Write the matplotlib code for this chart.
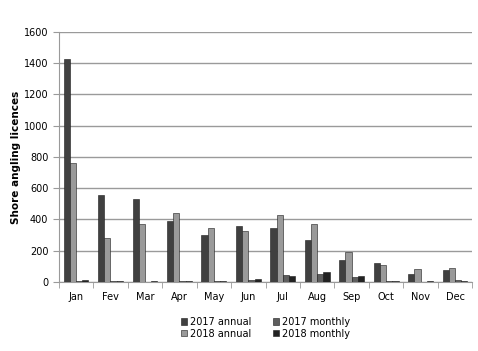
import numpy as np
import matplotlib.pyplot as plt

months = ['Jan', 'Fev', 'Mar', 'Apr', 'May', 'Jun', 'Jul', 'Aug', 'Sep', 'Oct', 'Nov', 'Dec']
annual_2017 = [1427, 554, 528, 387, 298, 356, 346, 267, 137, 118, 51, 77]
annual_2018 = [758, 279, 368, 441, 347, 326, 431, 371, 192, 111, 83, 86]
monthly_2017 = [6, 5, 2, 5, 5, 15, 47, 49, 28, 6, 2, 10]
monthly_2018 = [12, 3, 8, 7, 4, 17, 38, 62, 36, 3, 3, 8]

series = [
    ('2017 annual', annual_2017, '#404040'),
    ('2018 annual', annual_2018, '#9a9a9a'),
    ('2017 monthly', monthly_2017, '#5e5e5e'),
    ('2018 monthly', monthly_2018, '#222222'),
]

fig = plt.figure(figsize=(4.78, 3.51), dpi=100)
ax = fig.add_axes([0.123, 0.197, 0.865, 0.712])

x = np.arange(len(months))
w = 0.18
for i, (name, vals, col) in enumerate(series):
    ax.bar(x + (i - 1.5) * w, vals, w, color=col, edgecolor='#1a1a1a', linewidth=0.4, label=name, zorder=3)

ax.set_xlim(-0.5, len(months) - 0.5)
ax.set_ylim(0, 1600)
ax.set_yticks(range(0, 1601, 200))
ax.yaxis.grid(True, color='#9a9a9a', linewidth=1.0, zorder=0)
ax.set_axisbelow(True)

ax.set_xticks(x)
ax.set_xticklabels(months)
ax.set_xticks(np.arange(-0.5, len(months)), minor=True)
ax.tick_params(axis='x', which='major', length=0, pad=7, labelsize=7)
ax.tick_params(axis='x', which='minor', length=4, color='#9a9a9a', direction='out')
ax.tick_params(axis='y', length=4, color='#9a9a9a', labelsize=7)

for s in ['top', 'right']:
    ax.spines[s].set_visible(False)
ax.spines['left'].set_color('#9a9a9a')
ax.spines['bottom'].set_color('#9a9a9a')

ax.set_ylabel('Shore angling licences', fontsize=7.5, fontweight='bold')
ax.yaxis.set_label_coords(-0.092, 0.5)

ax.legend(loc='upper center', bbox_to_anchor=(0.5, -0.105), ncol=2, frameon=False,
          fontsize=7, handlelength=0.6, handleheight=0.6, handletextpad=0.3,
          columnspacing=2.2, labelspacing=0.2)

fig.savefig('out.png', dpi=100)
